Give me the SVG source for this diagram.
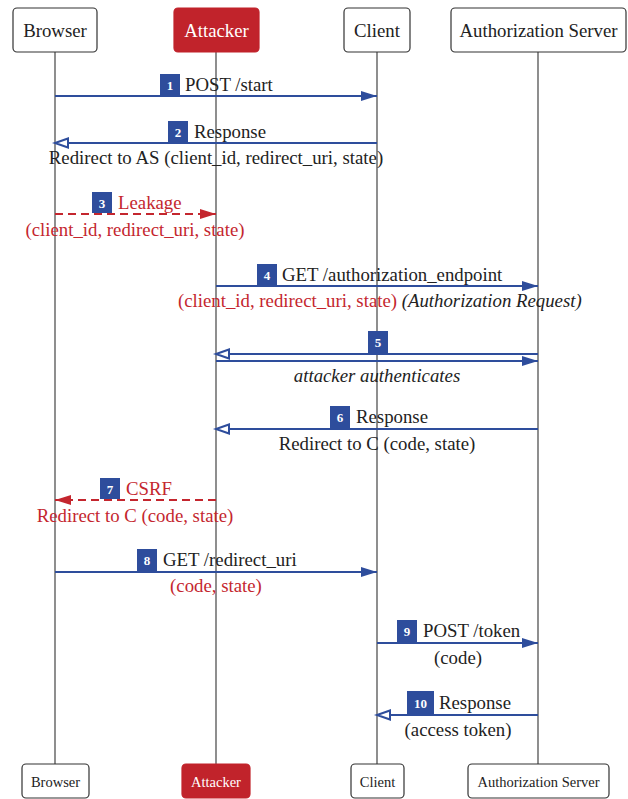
<svg xmlns="http://www.w3.org/2000/svg" width="628" height="799" viewBox="0 0 628 799">
<style>
text{font-family:"Liberation Serif","Times New Roman",serif;fill:#222}
.box{fill:#fff;stroke:#333;stroke-width:1.2}
.abox{fill:#C1232B;stroke:#C1232B;stroke-width:1.2}
.t{font-size:18.8px}
.tb{font-size:14.5px}
.w{fill:#fff}
.life{stroke:#444;stroke-width:1.2}
.blue{stroke:#2E4D9C;stroke-width:2;fill:none}
.red{stroke:#C4262E;stroke-width:2;fill:none;stroke-dasharray:8,5}
.badge{fill:#2E4D9C}
.num{font-size:13px;font-weight:bold;fill:#fff;text-anchor:middle}
.lab{font-size:18.8px}
.sub{font-size:18.8px;text-anchor:middle}
.r{fill:#C4262E}
.i{font-style:italic}
</style>
<defs>
<marker id="fb" markerUnits="userSpaceOnUse" markerWidth="18" markerHeight="12" refX="16" refY="6" orient="auto" overflow="visible"><path d="M0,1 L16,6 L0,11 z" fill="#2E4D9C"/></marker>
<marker id="ob" markerUnits="userSpaceOnUse" markerWidth="16" markerHeight="12" refX="14" refY="6" orient="auto" overflow="visible"><path d="M1,1.5 L14,6 L1,10.5 z" fill="#fff" stroke="#2E4D9C" stroke-width="2"/></marker>
<marker id="fr" markerUnits="userSpaceOnUse" markerWidth="18" markerHeight="12" refX="16" refY="6" orient="auto" overflow="visible"><path d="M0,1 L16,6 L0,11 z" fill="#C4262E"/></marker>
</defs>

<g id="lifelines">
<line class="life" x1="55" y1="52" x2="55" y2="764"/>
<line class="life" x1="216" y1="52" x2="216" y2="764"/>
<line class="life" x1="377" y1="52" x2="377" y2="764"/>
<line class="life" x1="538" y1="52" x2="538" y2="764"/>
</g>

<g id="browser-top"><rect class="box" x="13" y="8" width="84" height="44" rx="4"/><text class="t" x="55" y="37" text-anchor="middle">Browser</text></g>
<g id="attacker-top"><rect class="abox" x="174" y="8" width="85" height="44" rx="4"/><text class="t w" x="216.5" y="37" text-anchor="middle">Attacker</text></g>
<g id="client-top"><rect class="box" x="344" y="8" width="66" height="44" rx="4"/><text class="t" x="377" y="37" text-anchor="middle">Client</text></g>
<g id="as-top"><rect class="box" x="451" y="8" width="175" height="44" rx="4"/><text class="t" x="538.5" y="37" text-anchor="middle">Authorization Server</text></g>

<g id="browser-bottom"><rect class="box" x="22" y="764" width="67" height="34" rx="4"/><text class="tb" x="55.5" y="787" text-anchor="middle">Browser</text></g>
<g id="attacker-bottom"><rect class="abox" x="182" y="764" width="68" height="34" rx="4"/><text class="tb w" x="216" y="787" text-anchor="middle">Attacker</text></g>
<g id="client-bottom"><rect class="box" x="351" y="764" width="53" height="34" rx="4"/><text class="tb" x="377.5" y="787" text-anchor="middle">Client</text></g>
<g id="as-bottom"><rect class="box" x="468" y="764" width="141" height="34" rx="4"/><text class="tb" x="538.5" y="787" text-anchor="middle">Authorization Server</text></g>

<g id="connectors">
<line class="blue" x1="55" y1="96" x2="377" y2="96" marker-end="url(#fb)"/>
<line class="blue" x1="377" y1="143" x2="55" y2="143" marker-end="url(#ob)"/>
<line class="red" x1="55" y1="214" x2="216" y2="214" marker-end="url(#fr)"/>
<line class="blue" x1="216" y1="286" x2="538" y2="286" marker-end="url(#fb)"/>
<line class="blue" x1="538" y1="354" x2="216" y2="354" marker-end="url(#ob)"/>
<line class="blue" x1="216" y1="361" x2="538" y2="361" marker-end="url(#fb)"/>
<line class="blue" x1="538" y1="429" x2="216" y2="429" marker-end="url(#ob)"/>
<line class="red" x1="216" y1="500" x2="55" y2="500" marker-end="url(#fr)"/>
<line class="blue" x1="55" y1="572" x2="377" y2="572" marker-end="url(#fb)"/>
<line class="blue" x1="377" y1="643" x2="538" y2="643" marker-end="url(#fb)"/>
<line class="blue" x1="538" y1="715" x2="377" y2="715" marker-end="url(#ob)"/>
</g>

<g id="labels">
<rect class="badge" x="160" y="74" width="20" height="21"/><text class="num" x="170" y="89.5">1</text>
<text class="lab" x="185" y="91">POST /start</text>

<rect class="badge" x="168" y="121" width="20" height="21"/><text class="num" x="178" y="136.5">2</text>
<text class="lab" x="194" y="138">Response</text>
<text class="sub" x="216" y="164">Redirect to AS (client_id, redirect_uri, state)</text>

<rect class="badge" x="92" y="192" width="20" height="21"/><text class="num" x="102" y="207.5">3</text>
<text class="lab r" x="118" y="209">Leakage</text>
<text class="sub r" x="135" y="236">(client_id, redirect_uri, state)</text>

<rect class="badge" x="257" y="264" width="20" height="21"/><text class="num" x="267" y="279.5">4</text>
<text class="lab" x="282" y="281">GET /authorization_endpoint</text>
<text class="lab" x="178" y="307"><tspan class="r">(client_id, redirect_uri, state)</tspan> <tspan class="i">(Authorization Request)</tspan></text>

<rect class="badge" x="368" y="331" width="20" height="22"/><text class="num" x="378" y="346.5">5</text>
<text class="sub i" x="377" y="382">attacker authenticates</text>

<rect class="badge" x="330" y="406" width="20" height="22"/><text class="num" x="340" y="421.5">6</text>
<text class="lab" x="356" y="423">Response</text>
<text class="sub" x="377" y="450">Redirect to C (code, state)</text>

<rect class="badge" x="100" y="478" width="20" height="21"/><text class="num" x="110" y="493.5">7</text>
<text class="lab r" x="126" y="495">CSRF</text>
<text class="sub r" x="135" y="522">Redirect to C (code, state)</text>

<rect class="badge" x="137" y="549" width="20" height="22"/><text class="num" x="147" y="564.5">8</text>
<text class="lab" x="163" y="566">GET /redirect_uri</text>
<text class="sub r" x="216" y="592">(code, state)</text>

<rect class="badge" x="397" y="620" width="20" height="22"/><text class="num" x="407" y="635.5">9</text>
<text class="lab" x="423" y="637">POST /token</text>
<text class="sub" x="458" y="664">(code)</text>

<rect class="badge" x="407" y="691" width="27" height="23"/><text class="num" x="420.5" y="707.5">10</text>
<text class="lab" x="439" y="709">Response</text>
<text class="sub" x="458" y="736">(access token)</text>
</g>
</svg>
